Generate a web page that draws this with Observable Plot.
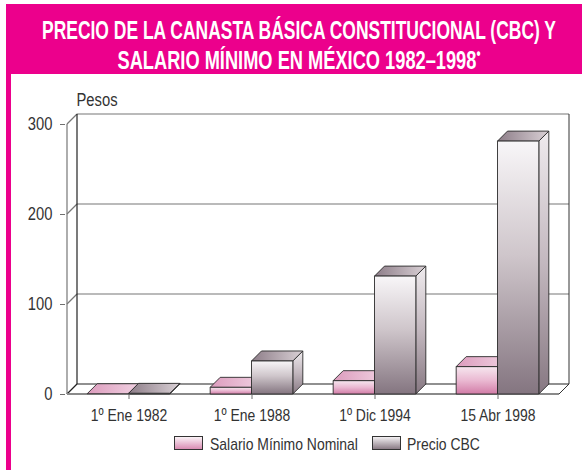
<!DOCTYPE html>
<html><head><meta charset="utf-8">
<script src="https://cdn.jsdelivr.net/npm/d3@7"></script>
<script src="https://cdn.jsdelivr.net/npm/@observablehq/plot@0.6"></script>
<style>
html,body{margin:0;padding:0;}
body{width:582px;height:470px;overflow:hidden;background:#fff;position:relative;
  font-family:"Liberation Sans",Arial,sans-serif;}
#header{position:absolute;left:6px;top:4px;width:590px;height:70px;background:#ec008c;color:#fff;overflow:hidden;}
#border{position:absolute;left:6px;top:4px;width:5px;height:470px;background:#ec008c;}
.t{position:absolute;left:293px;font-weight:bold;font-size:25px;line-height:1;white-space:nowrap;transform-origin:50% 50%;}
#chart{position:absolute;left:0;top:80px;}
#chart svg g[aria-label*="axis"] line,#chart svg g[aria-label*="axis"] path{stroke:#6f6f6f;}
.sw{position:absolute;width:27px;height:12px;border:1px solid #333;}
.lt{position:absolute;font-size:17px;line-height:1;color:#333;white-space:nowrap;transform-origin:0 50%;transform:scaleX(0.82);}
</style></head>
<body>
<div id="header">
  <span class="t" id="t1" style="top:14px"></span>
  <span class="t" id="t2" style="top:44px"></span>
</div>
<div id="border"></div>
<div id="chart"></div>
<div class="sw" style="left:174px;top:436px;background:linear-gradient(#fbf3f7,#d98cb3)"></div>
<div class="lt" id="l1" style="left:210px;top:436px"></div>
<div class="sw" style="left:372px;top:436px;background:linear-gradient(#f3f0f2,#8a7b85)"></div>
<div class="lt" id="l2" style="left:407px;top:436px"></div>
<script>
const titleLines = ["PRECIO DE LA CANASTA BÁSICA CONSTITUCIONAL (CBC) Y", "SALARIO MÍNIMO EN MÉXICO 1982–1998"];
const categories = ["1º Ene 1982", "1º Ene 1988", "1º Dic 1994", "15 Abr 1998"];
const salarioMinimo = [0.3, 7.4, 14.8, 30.4];
const precioCBC = [0.7, 36.7, 131, 281];
const yTicks = [0, 100, 200, 300];
const seriesNames = ["Salario Mínimo Nominal", "Precio CBC"];
const yLabel = "Pesos";

const t1 = document.getElementById("t1");
const t2 = document.getElementById("t2");
t1.textContent = titleLines[0];
t2.textContent = titleLines[1];
const bullet = document.createElement("span");
bullet.textContent = "•";
bullet.style.cssText = "font-size:16px;vertical-align:top;position:relative;top:-2px;";
t2.appendChild(bullet);
const k1 = 514 / t1.getBoundingClientRect().width;
const k2 = 363 / t2.getBoundingClientRect().width;
t1.style.transform = `translateX(-50%) scaleX(${k1})`;
t2.style.transform = `translateX(-50%) scaleX(${k2})`;

document.getElementById("l1").textContent = seriesNames[0];
document.getElementById("l2").textContent = seriesNames[1];

const rows = categories.flatMap((c, i) => [
  {cat: c, serie: 0, value: salarioMinimo[i]},
  {cat: c, serie: 1, value: precioCBC[i]}
]);

function scene(index, scales, values, dims) {
  const X = scales.x, Y = scales.y;
  const D = 10;
  const bw = typeof X.bandwidth === "function" ? X.bandwidth() : X.bandwidth;
  const left = X(categories[0]);
  const right = X(categories[categories.length - 1]) + bw;
  const y0 = Y(0);
  const yTop = Y(yTicks[yTicks.length - 1]);
  const g = d3.create("svg:g");
  const defs = g.append("defs");
  function grad(id, stops, horiz) {
    const lg = defs.append("linearGradient").attr("id", id)
      .attr("x1", 0).attr("y1", 0).attr("x2", horiz ? 1 : 0).attr("y2", horiz ? 0 : 1);
    stops.forEach(([o, c]) => lg.append("stop").attr("offset", o).attr("stop-color", c));
  }
  grad("salFront", [[0, "#f6e7ef"], [0.5, "#eab9d2"], [1, "#d27ca7"]]);
  grad("salTop", [[0, "#dc9cbd"], [1, "#f0d0e1"]], true);
  grad("salSide", [[0, "#eccbdc"], [1, "#c8789f"]]);
  grad("cbcFront", [[0, "#f8f6f8"], [0.45, "#cfc6cb"], [1, "#847580"]]);
  grad("cbcTop", [[0, "#8d7d88"], [1, "#d9d0d5"]], true);
  grad("cbcSide", [[0, "#efebee"], [0.5, "#c3b8bf"], [1, "#877882"]]);
  const line = (xa, ya, xb, yb, c, w) => g.append("line").attr("x1", xa).attr("y1", ya)
    .attr("x2", xb).attr("y2", yb).attr("stroke", c).attr("stroke-width", w || 1);
  g.append("rect").attr("x", left + D).attr("y", yTop - D).attr("width", right - left)
    .attr("height", y0 - yTop).attr("fill", "#fff");
  for (const t of yTicks) {
    if (t === 0) continue;
    const yy = Y(t);
    line(left + D, yy - D, right + D, yy - D, "#777", 1.2);
    line(left, yy, left + D, yy - D, "#777", 1.2);
  }
  line(left, yTop, left, y0, "#777", 1.2);
  line(left + D, yTop - D, left + D, y0 - D, "#222", 1.2);
  line(right + D, yTop - D, right + D, y0 - D, "#333", 1);
  line(left, y0, left + D, y0 - D, "#222", 1.2);
  line(left + D, y0 - D, right + D, y0 - D, "#222", 1.2);
  line(right, y0, right + D, y0 - D, "#333", 1);
  line(left, y0, right, y0, "#8a8a8a", 2);
  const w = bw * 0.336;
  rows.forEach(r => {
    const c = X(r.cat) + bw / 2;
    const xa = r.serie === 0 ? c - w : c;
    const xb = xa + w;
    const yt = Y(r.value);
    const p = r.serie === 0 ? "sal" : "cbc";
    const poly = (pts, fill) => g.append("polygon")
      .attr("points", pts.map(q => q.join(",")).join(" ")).attr("fill", fill)
      .attr("stroke", "#2a2a2a").attr("stroke-width", 0.9).attr("stroke-linejoin", "round");
    poly([[xb, yt], [xb + D, yt - D], [xb + D, y0 - D], [xb, y0]], `url(#${p}Side)`);
    poly([[xa, yt], [xb, yt], [xb + D, yt - D], [xa + D, yt - D]], `url(#${p}Top)`);
    if (y0 - yt > 0.5) poly([[xa, yt], [xb, yt], [xb, y0], [xa, y0]], `url(#${p}Front)`);
  });
  return g.node();
}

const chart = Plot.plot({
  width: 582,
  height: 350,
  marginLeft: 65,
  marginRight: 22,
  marginTop: 44,
  marginBottom: 36,
  style: {fontFamily: '"Liberation Sans",Arial,sans-serif', fontSize: "18px", color: "#333", background: "transparent", overflow: "visible"},
  x: {type: "band", domain: categories, padding: 0, label: null, tickSize: 5, tickPadding: 9, tickFormat: d => d},
  y: {domain: [0, 300], ticks: yTicks, tickSize: 5, tickPadding: 8, label: null},
  marks: [
    scene,
    Plot.text([yLabel], {text: d => d, frameAnchor: "top-left", textAnchor: "start", lineAnchor: "middle", dx: 11, dy: -24, fontSize: 18, fill: "#333"})
  ]
});
document.getElementById("chart").appendChild(chart);
chart.querySelectorAll('g[aria-label*="x-axis"] text').forEach(el => el.setAttribute("font-size", 17));
// condensed lettering (reference uses a condensed face)
chart.querySelectorAll("text").forEach(el => {
  const L = el.getComputedTextLength();
  if (L > 0) {
    el.setAttribute("textLength", L * 0.82);
    el.setAttribute("lengthAdjust", "spacingAndGlyphs");
  }
});
</script>
</body></html>
